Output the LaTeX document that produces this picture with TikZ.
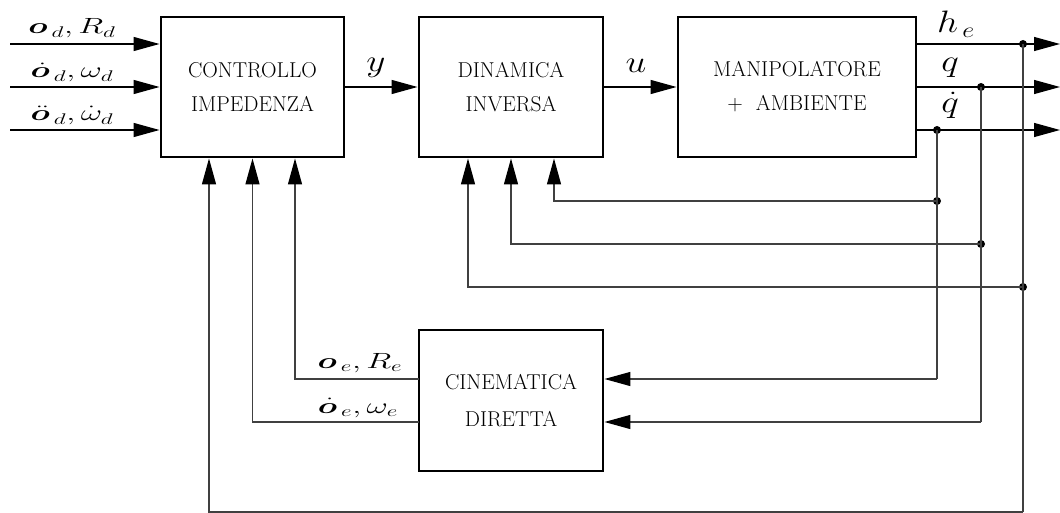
\RequirePackage{fix-cm}
\documentclass[tikz,border=0pt]{standalone}
\usepackage{bm}
\usetikzlibrary{arrows.meta}
\newcommand\smlab[1]{\scalebox{1.5}[1]{\fontsize{22}{24}\selectfont$#1$}}
\newcommand\biglab[1]{\scalebox{1.2}[1]{\fontsize{31}{34}\selectfont$#1$}}
\begin{document}
\begin{tikzpicture}[x=1pt,y=-1pt,
  blk/.style={draw,line width=2.9pt,inner sep=0pt,align=center,font=\fontsize{21.5}{34}\selectfont},
  wire/.style={line width=1.3pt,draw=black!75},
  arr/.style={wire,-{Triangle[length=26pt,width=14pt,color=black,fill=black]}},
  lab/.style={inner sep=0pt,anchor=base},
  jdot/.style={circle,fill=black,inner sep=0pt,minimum size=8pt}]
\useasboundingbox (0,0) rectangle (1060,513);
% blocks
\node[blk,minimum width=183pt,minimum height=140pt] (ci) at (252.5,87) {CONTROLLO\\IMPEDENZA};
\node[blk,minimum width=184pt,minimum height=140pt] (di) at (511,87) {DINAMICA\\INVERSA};
\node[blk,minimum width=238pt,minimum height=140pt] (ma) at (797,87) {MANIPOLATORE\\+\ \ AMBIENTE};
\node[blk,minimum width=184pt,minimum height=141pt,font=\fontsize{21.5}{37}\selectfont] (cd) at (511,400.5) {CINEMATICA\\DIRETTA};
% inputs
\coordinate (i1) at (10,44);
\coordinate (i2) at (10,87);
\coordinate (i3) at (10,130);
\draw[arr,draw=black] (i1) -- (i1 -| ci.west);
\draw[arr,draw=black] (i2) -- (i2 -| ci.west);
\draw[arr,draw=black] (i3) -- (i3 -| ci.west);
\node[lab] (l1) at (72,34) {\smlab{\bm{o}_{\,d},R_d}};
\node[lab] (l2) at (72,78) {\smlab{\dot{\bm{o}}_{\,d},\omega_d}};
\node[lab] (l3) at (72,121) {\smlab{\ddot{\bm{o}}_{\,d},\dot{\omega}_d}};
% forward path
\draw[arr,draw=black] (ci.east) -- (di.west);
\draw[arr,draw=black] (di.east) -- (ma.west);
\node[lab] (ly) at (376,72) {\biglab{y}};
\node[lab] (lu) at (636,73) {\biglab{u}};
% outputs
\coordinate (o1) at (1060,44);
\coordinate (o2) at (1060,87);
\coordinate (o3) at (1060,130);
\draw[arr,draw=black] (o1 -| ma.east) -- (o1);
\draw[arr,draw=black] (o2 -| ma.east) -- (o2);
\draw[arr,draw=black] (o3 -| ma.east) -- (o3);
\node[lab] (lh) at (956,33) {\biglab{h_{\,e}}};
\node[lab] (lq) at (950,72) {\biglab{q}};
\node[lab] (lqd) at (950,113) {\biglab{\dot{q}}};
% junctions
\node[jdot] (jh) at (1023,44) {};
\node[jdot] (jq) at (981,87) {};
\node[jdot] (jqd) at (937,130) {};
\node[jdot] (jqd2) at (937,201) {};
\node[jdot] (jq2) at (981,244) {};
\node[jdot] (jh2) at (1023,287) {};
\coordinate (cqd) at (937,379);
\coordinate (cq) at (981,422);
\coordinate (ch) at (1023,512);
% vertical drops
\draw[wire] (jqd.center) -- (cqd);
\draw[wire] (jq.center) -- (cq);
\draw[wire] (jh.center) -- (ch);
% feedback to dinamica inversa
\draw[arr] (jqd2.center) -| ([xshift=43pt]di.south);
\draw[arr] (jq2.center) -| (di.south);
\draw[arr] (jh2.center) -| ([xshift=-43pt]di.south);
% feedback to cinematica diretta
\draw[arr] (cqd) -- (cqd -| cd.east);
\draw[arr] (cq) -- (cq -| cd.east);
% cinematica to controllo
\coordinate (oe) at (419,379);
\coordinate (oed) at (419,422);
\draw[arr] (oe) -| ([xshift=42.5pt]ci.south);
\draw[arr] (oed) -| (ci.south);
\draw[arr] (ch) -| ([xshift=-43.5pt]ci.south);
\node[lab] (le1) at (360,368) {\smlab{\bm{o}_{\,e},R_e}};
\node[lab] (le2) at (358,413) {\smlab{\dot{\bm{o}}_{\,e},\omega_e}};
\end{tikzpicture}
\end{document}
